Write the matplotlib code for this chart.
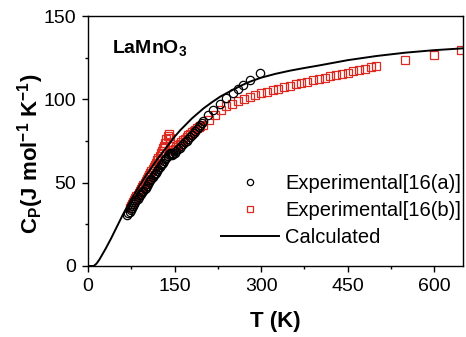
import matplotlib
matplotlib.use("Agg")
import matplotlib.pyplot as plt
from matplotlib.ticker import MultipleLocator

plt.rcParams['font.family'] = ['Liberation Sans', 'DejaVu Sans']
plt.rcParams['mathtext.default'] = 'regular'

# Experimental [16(a)] - open circles
exp_a_T = [68, 70, 72, 74, 76, 78, 80, 82, 84, 86, 88, 90, 92, 94, 96, 98, 100,
           102, 104, 106, 108, 110, 112, 114, 116, 118, 120, 122, 124, 126, 128,
           130, 132, 134, 136, 138, 140, 142, 144, 146, 148, 150, 153, 156, 159,
           162, 165, 168, 171, 174, 177, 180, 183, 186, 189, 192, 195, 198, 200,
           208, 217, 228, 240, 251, 260, 269, 280, 299]
exp_a_cp = [30.6, 31.5, 32.5, 33.6, 34.8, 36.0, 37.2, 38.3, 39.3, 40.3, 41.3,
            42.3, 43.2, 44.1, 45.0, 46.0, 47.0, 48.0, 49.4, 50.4, 51.4, 52.4,
            53.4, 54.3, 55.0, 55.8, 57.0, 58.2, 59.4, 60.4, 61.2, 62.0, 63.0,
            64.0, 65.0, 66.0, 67.0, 67.8, 67.0, 66.8, 67.2, 68.0, 69.0, 70.0,
            71.0, 72.2, 73.2, 74.2, 75.3, 76.4, 77.6, 78.8, 80.0, 81.2, 82.4,
            83.6, 84.8, 86.0, 87.0, 90.6, 93.6, 97.2, 100.6, 103.6, 106.4,
            108.4, 111.6, 115.6]

# Experimental [16(b)] - open squares
exp_b_T = [72, 74, 76, 78, 80, 82, 84, 86, 88, 90, 92, 94, 96, 98, 100, 102,
           104, 106, 108, 110, 112, 114, 116, 118, 120, 122, 124, 126, 128, 130,
           132, 134, 136, 138, 140, 142, 143, 145, 147, 150, 153, 156, 159, 162,
           165, 168, 171, 174, 177, 180, 183, 186, 189, 192, 195,
           200, 210, 220, 230, 240, 250, 260, 270, 280, 290, 300, 310, 320, 330,
           340, 350, 360, 370, 380, 390, 400, 410, 420, 430, 440, 450, 460, 470,
           480, 490, 500, 550, 600, 647]
exp_b_cp = [35.0, 36.2, 37.3, 38.4, 39.5, 40.6, 41.7, 42.8, 43.9, 45.0, 46.1,
            47.3, 48.5, 49.7, 51.0, 52.2, 53.4, 54.6, 55.8, 57.0, 58.2, 59.4,
            60.7, 62.0, 63.4, 64.8, 66.2, 67.6, 69.0, 70.6, 72.2, 74.0, 76.0,
            78.0, 79.5, 77.0, 73.0, 69.5, 69.8, 70.5, 71.5, 72.5, 73.5, 74.5,
            75.5, 76.5, 77.5, 78.5, 79.5, 80.3, 81.1, 81.9, 82.6, 83.3, 84.0,
            84.5, 87.5, 90.5, 93.5, 96.0, 97.5, 98.8, 100.0, 101.3, 102.5,
            103.6, 104.6, 105.6, 106.5, 107.3, 108.2, 109.0, 109.8, 110.6,
            111.4, 112.2, 113.0, 113.8, 114.5, 115.3, 116.1, 116.8, 117.6,
            118.4, 119.2, 120.0, 123.6, 126.6, 129.6]

# Calculated curve
calc_T = [0, 10, 15, 20, 30, 40, 50, 60, 70, 80, 90, 100, 110, 120, 130, 140,
          150, 160, 170, 180, 190, 200, 215, 230, 250, 265, 280, 300, 325, 350,
          375, 400, 450, 500, 550, 600, 650]
calc_cp = [0, 0, 1.5, 4.0, 10.0, 16.5, 23.5, 30.5, 37.0, 43.0, 48.5, 54.0,
           59.0, 64.0, 68.5, 73.0, 77.5, 81.5, 85.0, 88.5, 91.5, 94.5, 98.3,
           101.8, 105.5, 108.2, 110.5, 113.0, 115.3, 117.2, 118.8, 120.3,
           123.5, 126.0, 128.0, 129.5, 130.6]

red = '#dc2a20'

fig = plt.figure(figsize=(4.66, 3.37), dpi=100)
ax = fig.add_axes([0.1888, 0.2107, 0.8048, 0.7418])

ax.plot(exp_a_T, exp_a_cp, 'o', mfc='none', mec='black', ms=6, mew=0.9,
        label='Experimental[16(a)]', zorder=3)
ax.plot(exp_b_T, exp_b_cp, 's', mfc='none', mec=red, ms=5.6, mew=0.9,
        label='Experimental[16(b)]', zorder=2)
ax.plot(calc_T, calc_cp, '-', color='black', lw=1.4, label='Calculated', zorder=4)

ax.set_xlim(0, 650)
ax.set_ylim(0, 150)
ax.xaxis.set_major_locator(MultipleLocator(150))
ax.xaxis.set_minor_locator(MultipleLocator(75))
ax.yaxis.set_major_locator(MultipleLocator(50))
ax.yaxis.set_minor_locator(MultipleLocator(25))
ax.tick_params(which='both', direction='out', top=False, right=False,
               labelsize=14, width=1)
ax.tick_params(which='major', length=4.5, pad=4)
ax.tick_params(which='minor', length=2.5)
for s in ax.spines.values():
    s.set_linewidth(1)

ax.set_xlabel('T (K)', fontsize=16, fontweight='bold', labelpad=12)
ax.set_ylabel('C$_P$(J mol$^{-1}$ K$^{-1}$)', fontsize=16, fontweight='bold')
ax.yaxis.set_label_coords(-0.112, 0.448)

ax.text(0.063, 0.851, 'LaMnO$_3$', transform=ax.transAxes, fontsize=14,
        fontweight='bold', va='baseline', ha='left')

ax.legend(loc='lower right', bbox_to_anchor=(0.995, 0.074), frameon=False,
          fontsize=14.5, handlelength=2.9, handletextpad=0.3, labelspacing=0.42,
          borderpad=0, borderaxespad=0, markerscale=0.75)

fig.savefig('out.png', dpi=100)
